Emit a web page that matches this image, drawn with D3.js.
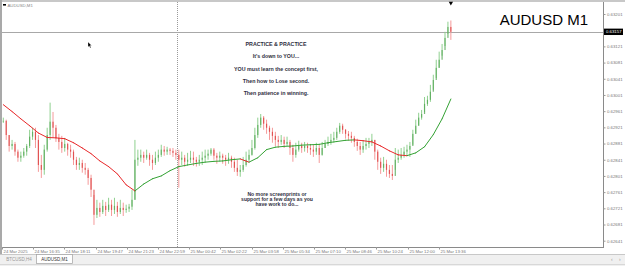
<!DOCTYPE html>
<html>
<head>
<meta charset="utf-8">
<script src="https://cdn.jsdelivr.net/npm/d3@7"></script>
<style>
body { margin: 0; background: #fff; overflow: hidden; }
svg { display: block; font-family: "Liberation Sans", Arial, sans-serif; }
</style>
</head>
<body>
<div id="chart"></div>
<script>
// AUDUSD M1 candles, each one groups 9 one-minute bars
var closes = [0.62937,0.62902,0.62875,0.62880,0.62861,0.62846,0.62851,0.62861,0.62875,0.62898,
	0.62910,0.62890,0.62828,0.62816,0.62866,0.62902,0.62935,0.62920,0.62895,0.62885,
	0.62870,0.62880,0.62866,0.62861,0.62841,0.62828,0.62833,0.62821,0.62816,0.62796,
	0.62767,0.62705,0.62722,0.62712,0.62727,0.62717,0.62730,0.62717,0.62727,0.62712,
	0.62722,0.62717,0.62720,0.62725,0.62742,0.62841,0.62846,0.62853,0.62846,0.62853,
	0.62841,0.62833,0.62846,0.62853,0.62866,0.62861,0.62866,0.62863,0.62858,0.62853,
	0.62841,0.62846,0.62836,0.62841,0.62846,0.62841,0.62836,0.62841,0.62846,0.62851,
	0.62856,0.62866,0.62851,0.62846,0.62851,0.62846,0.62841,0.62846,0.62836,0.62821,
	0.62811,0.62816,0.62828,0.62841,0.62853,0.62870,0.62902,0.62927,0.62945,0.62930,
	0.62920,0.62910,0.62900,0.62890,0.62885,0.62890,0.62880,0.62885,0.62870,0.62853,
	0.62866,0.62875,0.62870,0.62875,0.62870,0.62866,0.62861,0.62870,0.62853,0.62870,
	0.62880,0.62885,0.62890,0.62895,0.62910,0.62925,0.62915,0.62905,0.62900,0.62895,
	0.62885,0.62875,0.62866,0.62875,0.62880,0.62885,0.62890,0.62861,0.62836,0.62821,
	0.62831,0.62816,0.62806,0.62801,0.62841,0.62846,0.62853,0.62861,0.62866,0.62875,
	0.62905,0.62925,0.62945,0.62954,0.62979,0.62989,0.63009,0.63038,0.63068,0.63088,
	0.63112,0.63142,0.63169,0.63157];

var highs = [0.62945,0.62940,0.62902,0.62890,0.62885,0.62866,0.62861,0.62870,0.62880,0.62915,
	0.62920,0.62920,0.62902,0.62853,0.62878,0.62920,0.62982,0.62959,0.62927,0.62905,
	0.62900,0.62895,0.62883,0.62878,0.62866,0.62848,0.62846,0.62841,0.62833,0.62821,
	0.62804,0.62754,0.62742,0.62735,0.62742,0.62737,0.62747,0.62742,0.62747,0.62737,
	0.62742,0.62735,0.62730,0.62732,0.62767,0.62890,0.62866,0.62866,0.62861,0.62866,
	0.62858,0.62853,0.62861,0.62866,0.62878,0.62875,0.62873,0.62870,0.62870,0.62866,
	0.62866,0.62861,0.62853,0.62858,0.62863,0.62861,0.62848,0.62853,0.62861,0.62866,
	0.62866,0.62870,0.62870,0.62858,0.62861,0.62856,0.62853,0.62858,0.62851,0.62846,
	0.62841,0.62828,0.62848,0.62861,0.62866,0.62890,0.62920,0.62945,0.62954,0.62949,
	0.62940,0.62925,0.62920,0.62910,0.62900,0.62902,0.62898,0.62898,0.62890,0.62878,
	0.62883,0.62888,0.62883,0.62885,0.62883,0.62880,0.62878,0.62883,0.62878,0.62885,
	0.62890,0.62898,0.62905,0.62910,0.62920,0.62932,0.62930,0.62917,0.62912,0.62910,
	0.62900,0.62893,0.62885,0.62888,0.62895,0.62895,0.62905,0.62890,0.62866,0.62846,
	0.62848,0.62841,0.62828,0.62828,0.62870,0.62866,0.62870,0.62873,0.62878,0.62885,
	0.62915,0.62940,0.62957,0.62964,0.62996,0.62999,0.63026,0.63051,0.63088,0.63108,
	0.63127,0.63157,0.63182,0.63185];

var lows = [0.62932,0.62890,0.62861,0.62866,0.62851,0.62836,0.62836,0.62846,0.62851,0.62870,
	0.62890,0.62870,0.62811,0.62796,0.62804,0.62861,0.62890,0.62895,0.62885,0.62866,
	0.62858,0.62861,0.62851,0.62846,0.62828,0.62816,0.62816,0.62809,0.62804,0.62779,
	0.62749,0.62680,0.62697,0.62700,0.62707,0.62702,0.62712,0.62702,0.62707,0.62700,
	0.62707,0.62702,0.62710,0.62712,0.62717,0.62742,0.62826,0.62836,0.62833,0.62841,
	0.62826,0.62816,0.62828,0.62836,0.62848,0.62851,0.62853,0.62853,0.62848,0.62841,
	0.62772,0.62828,0.62824,0.62828,0.62833,0.62826,0.62824,0.62826,0.62828,0.62836,
	0.62841,0.62851,0.62841,0.62831,0.62836,0.62831,0.62826,0.62831,0.62821,0.62811,
	0.62801,0.62799,0.62811,0.62824,0.62836,0.62851,0.62866,0.62895,0.62920,0.62915,
	0.62905,0.62890,0.62883,0.62875,0.62870,0.62878,0.62870,0.62875,0.62853,0.62836,
	0.62846,0.62861,0.62858,0.62861,0.62858,0.62853,0.62848,0.62853,0.62833,0.62851,
	0.62870,0.62875,0.62878,0.62883,0.62890,0.62905,0.62905,0.62893,0.62888,0.62883,
	0.62873,0.62863,0.62853,0.62858,0.62866,0.62870,0.62875,0.62841,0.62816,0.62806,
	0.62811,0.62799,0.62796,0.62791,0.62816,0.62833,0.62841,0.62846,0.62851,0.62848,
	0.62878,0.62905,0.62925,0.62940,0.62959,0.62974,0.62984,0.63014,0.63043,0.63068,
	0.63098,0.63122,0.63152,0.63137];

// moving average, one value every 3 candles
var maValues = [0.62977,0.62960,0.62942,0.62925,0.62907,0.62896,0.62895,0.62893,0.62883,0.62870,
	0.62856,0.62838,0.62824,0.62806,0.62779,0.62764,0.62781,0.62794,0.62801,0.62814,
	0.62824,0.62828,0.62832,0.62835,0.62837,0.62838,0.62841,0.62843,0.62835,0.62846,
	0.62866,0.62872,0.62874,0.62875,0.62877,0.62878,0.62879,0.62883,0.62886,0.62889,
	0.62890,0.62888,0.62885,0.62875,0.62863,0.62853,0.62851,0.62858,0.62873,0.62903,
	0.62942,0.62991];

var priceTicks = [0.63201,0.63121,0.63081,0.63041,0.63001,0.62961,0.62921,0.62881,
	0.62841,0.62801,0.62761,0.62721,0.62681,0.62641];

var timeLabels = ["24 Mar 2025","24 Mar 16:35","24 Mar 18:11","24 Mar 19:47","24 Mar 21:23",
	"24 Mar 22:59","25 Mar 00:42","25 Mar 02:22","25 Mar 03:58","25 Mar 05:34",
	"25 Mar 07:10","25 Mar 08:46","25 Mar 10:24","25 Mar 12:00","25 Mar 13:36"];

var notesTop = ["PRACTICE & PRACTICE", "It's down to YOU...", "YOU must learn the concept first,",
	"Then how to Lose second.", "Then patience in winning."];
var notesBottom = ["No more screenprints or", "support for a few days as you", "have work to do..."];
var tabs = ["BTCUSD,H4", "AUDUSD,M1"];

var lastPrice = 0.63157;
var barsPerCandle = 9, barsPerLabel = 96, maStep = 3, dayBreakBar = 538, totalBars = 1846;

var width = 625, height = 266;
var plot = {left: 2, right: 603, top: 2, bottom: 247};

var svg = d3.select("#chart").append("svg")
	.attr("width", width)
	.attr("height", height);

var x = d3.scaleLinear().domain([0, totalBars]).range([plot.left, plot.right - 1]);
var y = d3.scaleLinear().domain([0.62641, 0.63201]).range([240.7, 14]);

// window frame
svg.append("rect").attr("x", 0).attr("y", 0).attr("width", width).attr("height", height).attr("fill", "#fff");
svg.append("rect").attr("x", 0).attr("y", 0).attr("width", width).attr("height", 2).attr("fill", "#c8c8c8");
svg.append("rect").attr("x", 0).attr("y", 0).attr("width", 2).attr("height", 254).attr("fill", "#a9a9a9");

var chart = svg.append("g");

// day separator
chart.append("line")
	.attr("x1", Math.round(x(dayBreakBar)) + 0.5).attr("x2", Math.round(x(dayBreakBar)) + 0.5)
	.attr("y1", plot.top).attr("y2", plot.bottom)
	.attr("stroke", "#9a9a9a").attr("stroke-dasharray", "1,1");

// bid line
chart.append("line")
	.attr("x1", plot.left).attr("x2", plot.right)
	.attr("y1", Math.round(y(lastPrice)) + 0.5).attr("y2", Math.round(y(lastPrice)) + 0.5)
	.attr("stroke", "#a8a8a8");

// candles
var candles = closes.map(function(c, i) {
	return {i: i, open: i ? closes[i - 1] : closes[0], close: c, high: highs[i], low: lows[i]};
});

var cg = chart.append("g");
cg.selectAll(".wick")
	.data(candles)
	.enter().append("line")
	.attr("class", "wick")
	.attr("x1", function(d) { return x(d.i * barsPerCandle + 4); })
	.attr("x2", function(d) { return x(d.i * barsPerCandle + 4); })
	.attr("y1", function(d) { return y(d.high); })
	.attr("y2", function(d) { return y(d.low); })
	.attr("stroke", function(d) { return d.close >= d.open ? "#8fd08f" : "#f59a9a"; })
	.attr("stroke-width", 1);

cg.selectAll(".body")
	.data(candles)
	.enter().append("rect")
	.attr("class", "body")
	.attr("x", function(d) { return x(d.i * barsPerCandle + 4) - 0.6; })
	.attr("width", 1.2)
	.attr("y", function(d) { return y(Math.max(d.open, d.close)); })
	.attr("height", function(d) { return Math.max(0.6, Math.abs(y(d.open) - y(d.close))); })
	.attr("fill", function(d) { return d.close >= d.open ? "#55a855" : "#dc4040"; })
	.attr("opacity", 0.8);

// moving average coloured by slope
var maPts = maValues.map(function(v, j) {
	return [x(j * maStep * barsPerCandle + 4), y(v)];
});
var maSegs = d3.pairs(maPts);
chart.selectAll(".ma")
	.data(maSegs)
	.enter().append("path")
	.attr("class", "ma")
	.attr("d", function(d) { return d3.line()(d); })
	.attr("fill", "none")
	.attr("stroke", function(d) { return d[1][1] > d[0][1] ? "#e8282a" : "#34a234"; })
	.attr("stroke-width", 1)
	.attr("stroke-linecap", "round");

// last bar marker
var lastX = x((closes.length - 1) * barsPerCandle + 4);
chart.append("path")
	.attr("d", d3.symbol().type(d3.symbolTriangle).size(8)())
	.attr("transform", "translate(" + lastX + ",3) rotate(180)")
	.attr("fill", "#000");

// notes on the chart
chart.selectAll(".noteTop")
	.data(notesTop)
	.enter().append("text")
	.attr("x", 276)
	.attr("y", function(d, i) { return 46 + i * 12.3; })
	.attr("text-anchor", "middle")
	.attr("font-size", "5.3px")
	.attr("font-weight", "bold")
	.attr("fill", "#2e2e40")
	.text(function(d) { return d; });

chart.selectAll(".noteBottom")
	.data(notesBottom)
	.enter().append("text")
	.attr("x", 277)
	.attr("y", function(d, i) { return 196 + i * 5.2; })
	.attr("text-anchor", "middle")
	.attr("font-size", "5.1px")
	.attr("font-weight", "bold")
	.attr("fill", "#2e2e40")
	.text(function(d) { return d; });

// symbol title
chart.append("text")
	.attr("x", 588).attr("y", 25)
	.attr("text-anchor", "end")
	.attr("font-size", "15px")
	.attr("fill", "#000")
	.text("AUDUSD M1");

// small top-left caption
chart.append("rect").attr("x", 3).attr("y", 4).attr("width", 3).attr("height", 1.6).attr("fill", "#000");
chart.append("text")
	.attr("x", 7.5).attr("y", 6.5)
	.attr("font-size", "4.3px")
	.attr("fill", "#888")
	.text("AUDUSD,M1");

// mouse pointer
chart.append("path")
	.attr("d", "M0,0 L0,5 L1.2,3.9 L2.2,6 L3,5.6 L2,3.6 L3.6,3.6 Z")
	.attr("transform", "translate(88,42)")
	.attr("fill", "#000")
	.attr("stroke", "#fff")
	.attr("stroke-width", 0.3);

// right price axis
svg.append("line")
	.attr("x1", plot.right + 0.5).attr("x2", plot.right + 0.5)
	.attr("y1", plot.top).attr("y2", plot.bottom)
	.attr("stroke", "#8a8a8a");

var yAxis = d3.axisRight(y)
	.tickValues(priceTicks)
	.tickSize(2)
	.tickPadding(1.5)
	.tickFormat(d3.format(".5f"));

var ya = svg.append("g")
	.attr("transform", "translate(" + (plot.right + 0.5) + ",0)")
	.call(yAxis);
ya.select(".domain").remove();
ya.selectAll("line").attr("stroke", "#999");
ya.selectAll("text").attr("font-size", "4.3px").attr("fill", "#777").attr("font-family", "Liberation Sans, Arial, sans-serif");

// current price box
var py = y(lastPrice);
svg.append("rect")
	.attr("x", plot.right + 1).attr("y", py - 3.2)
	.attr("width", 19).attr("height", 6.4)
	.attr("fill", "#000");
svg.append("text")
	.attr("x", plot.right + 3).attr("y", py + 1.6)
	.attr("font-size", "4.3px")
	.attr("fill", "#fff")
	.text(d3.format(".5f")(lastPrice));

// bottom time axis
svg.append("line")
	.attr("x1", plot.left).attr("x2", plot.right + 1)
	.attr("y1", plot.bottom + 0.5).attr("y2", plot.bottom + 0.5)
	.attr("stroke", "#8a8a8a");

var tg = svg.append("g").selectAll(".tlab")
	.data(timeLabels)
	.enter().append("g")
	.attr("transform", function(d, k) { return "translate(" + (Math.round(x(k * barsPerLabel)) + 0.5) + "," + plot.bottom + ")"; });
tg.append("line").attr("y1", 0).attr("y2", 2.5).attr("stroke", "#999");
tg.append("text")
	.attr("x", 1).attr("y", 5.8)
	.attr("font-size", "4.3px")
	.attr("fill", "#777")
	.text(function(d) { return d; });

// tab strip
svg.append("rect").attr("x", 0).attr("y", 254).attr("width", width).attr("height", 12).attr("fill", "#f0f0f0");
svg.append("line").attr("x1", 0).attr("x2", width).attr("y1", 254.5).attr("y2", 254.5).attr("stroke", "#c8c8c8");
svg.append("line").attr("x1", 0).attr("x2", width).attr("y1", 264.5).attr("y2", 264.5).attr("stroke", "#d8d8d8");
svg.append("rect").attr("x", 36.5).attr("y", 254.5).attr("width", 36).attr("height", 9).attr("fill", "#fff").attr("stroke", "#a0a0a0").attr("stroke-width", 0.7);
svg.selectAll(".tab")
	.data(tabs)
	.enter().append("text")
	.attr("x", function(d, i) { return i ? 54.5 : 19; })
	.attr("y", 261)
	.attr("text-anchor", "middle")
	.attr("font-size", "4.5px")
	.attr("fill", function(d, i) { return i ? "#333" : "#999"; })
	.text(function(d) { return d; });
svg.selectAll(".arr")
	.data(["\u2039", "\u203A"])
	.enter().append("text")
	.attr("x", function(d, i) { return 611 + i * 8; })
	.attr("y", 261)
	.attr("font-size", "5px")
	.attr("fill", "#999")
	.text(function(d) { return d; });
</script>
</body>
</html>
